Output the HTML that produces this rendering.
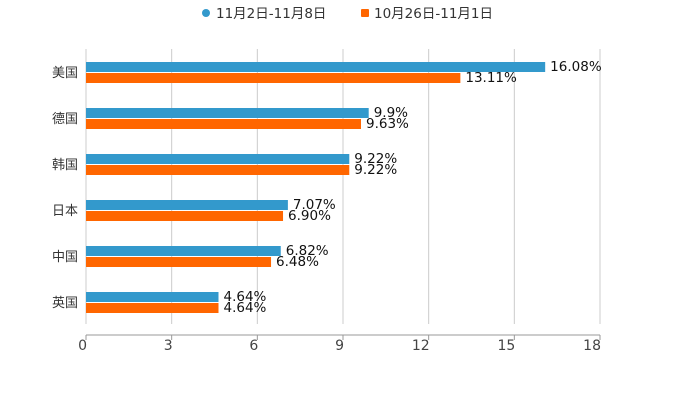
<!DOCTYPE html>
<html><head><meta charset="utf-8"><style>
body{margin:0;background:#fff;font-family:"Liberation Sans","Noto Sans CJK SC",sans-serif}
svg text{font-family:"DejaVu Sans","Noto Sans CJK SC",sans-serif}
</style></head><body>
<svg id="c" width="700" height="400"></svg>
<script>
const categories=["美国","德国","韩国","日本","中国","英国"];
const seriesA=[16.08,9.9,9.22,7.07,6.82,4.64];
const seriesB=[13.11,9.63,9.22,6.90,6.48,4.64];
const labelsA=["16.08%","9.9%","9.22%","7.07%","6.82%","4.64%"];
const labelsB=["13.11%","9.63%","9.22%","6.90%","6.48%","4.64%"];
const ticks=[0,3,6,9,12,15,18];
const seriesNames=["11月2日-11月8日","10月26日-11月1日"];
const svg=document.getElementById('c');const NS="http://www.w3.org/2000/svg";
function mk(t,a,p){const e=document.createElementNS(NS,t);for(const k in a)e.setAttribute(k,a[k]);(p||svg).appendChild(e);return e;}
const x0=86,x1=600,xmax=18;
const xs=v=>x0+(x1-x0)*v/xmax;
const yc=i=>72+46*i;
ticks.forEach(t=>{
 const g=mk('line',{x1:xs(t),x2:xs(t),y1:49,y2:324,stroke:'#ccc','stroke-width':1});
 
 const tk=mk('line',{x1:xs(t),x2:xs(t),y1:335,y2:340,stroke:'#999'});
 
 const l=mk('text',{x:xs(t)+1,y:350,'text-anchor':'end','font-size':14,fill:'#444'});l.textContent=t;
 
});
const ax=mk('line',{x1:x0,x2:x1,y1:335,y2:335,stroke:'#999'});

categories.forEach((c,i)=>{
 const y=yc(i);
 const l=mk('text',{x:78,y:y+5,'text-anchor':'end','font-size':13,fill:'#333'});l.textContent=c;
 
 const a=mk('rect',{x:x0,y:y-10,width:xs(seriesA[i])-x0,height:10,fill:'#3399cc'});
 
 const b=mk('rect',{x:x0,y:y+1,width:xs(seriesB[i])-x0,height:10,fill:'#ff6600'});
 
 const ta=mk('text',{x:xs(seriesA[i])+5,y:y-1,'font-size':13.5,fill:'#111'});ta.textContent=labelsA[i];
 
 const tb=mk('text',{x:xs(seriesB[i])+5,y:y+10,'font-size':13.5,fill:'#111'});tb.textContent=labelsB[i];
 
});
const d=mk('circle',{cx:206,cy:13,r:4,fill:'#3399cc'});

const t1=mk('text',{x:216,y:18,'font-size':13.5,fill:'#333'});t1.textContent=seriesNames[0];

const s=mk('rect',{x:361,y:9,width:8,height:8,rx:1,fill:'#ff6600'});

const t2=mk('text',{x:374,y:18,'font-size':13.5,fill:'#333'});t2.textContent=seriesNames[1];

</script>
</body></html>
